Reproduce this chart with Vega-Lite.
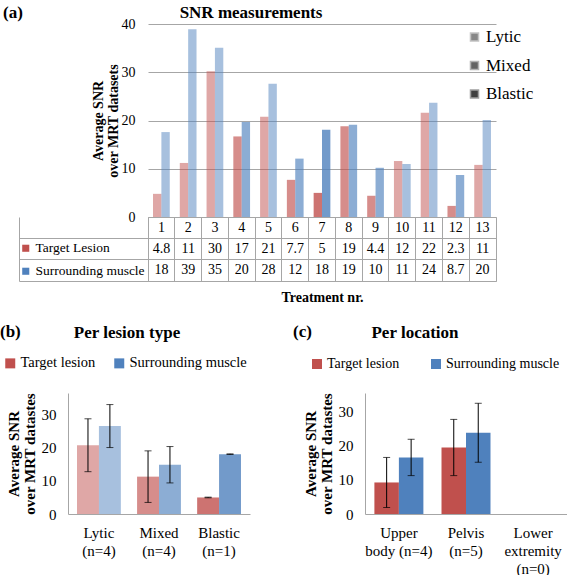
{
  "$schema": "https://vega.github.io/schema/vega-lite/v6.json",
  "padding": {"left": 0, "top": 4, "right": 0, "bottom": 0},
  "autosize": {"type": "pad"},
  "background": "white",
  "datasets": {
    "treat": [
      {"t": 1, "m": "Target Lesion", "v": 4.8, "type": "Lytic"},
      {"t": 1, "m": "Surrounding muscle", "v": 17.6, "type": "Lytic"},
      {"t": 2, "m": "Target Lesion", "v": 11.2, "type": "Lytic"},
      {"t": 2, "m": "Surrounding muscle", "v": 38.9, "type": "Lytic"},
      {"t": 3, "m": "Target Lesion", "v": 30.2, "type": "Lytic"},
      {"t": 3, "m": "Surrounding muscle", "v": 35.1, "type": "Lytic"},
      {"t": 4, "m": "Target Lesion", "v": 16.7, "type": "Mixed"},
      {"t": 4, "m": "Surrounding muscle", "v": 19.7, "type": "Mixed"},
      {"t": 5, "m": "Target Lesion", "v": 20.8, "type": "Lytic"},
      {"t": 5, "m": "Surrounding muscle", "v": 27.6, "type": "Lytic"},
      {"t": 6, "m": "Target Lesion", "v": 7.7, "type": "Mixed"},
      {"t": 6, "m": "Surrounding muscle", "v": 12.1, "type": "Mixed"},
      {"t": 7, "m": "Target Lesion", "v": 5.0, "type": "Blastic"},
      {"t": 7, "m": "Surrounding muscle", "v": 18.1, "type": "Blastic"},
      {"t": 8, "m": "Target Lesion", "v": 18.8, "type": "Mixed"},
      {"t": 8, "m": "Surrounding muscle", "v": 19.1, "type": "Mixed"},
      {"t": 9, "m": "Target Lesion", "v": 4.4, "type": "Mixed"},
      {"t": 9, "m": "Surrounding muscle", "v": 10.2, "type": "Mixed"},
      {"t": 10, "m": "Target Lesion", "v": 11.6, "type": "Lytic"},
      {"t": 10, "m": "Surrounding muscle", "v": 11.0, "type": "Lytic"},
      {"t": 11, "m": "Target Lesion", "v": 21.6, "type": "Lytic"},
      {"t": 11, "m": "Surrounding muscle", "v": 23.7, "type": "Lytic"},
      {"t": 12, "m": "Target Lesion", "v": 2.3, "type": "Mixed"},
      {"t": 12, "m": "Surrounding muscle", "v": 8.7, "type": "Mixed"},
      {"t": 13, "m": "Target Lesion", "v": 10.8, "type": "Lytic"},
      {"t": 13, "m": "Surrounding muscle", "v": 20.1, "type": "Lytic"}
    ],
    "lesion": [
      {"cat": "Lytic\n(n=4)", "m": "Target lesion", "mean": 20.8, "lo": 12.8, "hi": 28.8},
      {"cat": "Lytic\n(n=4)", "m": "Surrounding muscle", "mean": 26.6, "lo": 20.1, "hi": 33.1},
      {"cat": "Mixed\n(n=4)", "m": "Target lesion", "mean": 11.3, "lo": 3.5, "hi": 19.1},
      {"cat": "Mixed\n(n=4)", "m": "Surrounding muscle", "mean": 14.9, "lo": 9.4, "hi": 20.4},
      {"cat": "Blastic\n(n=1)", "m": "Target lesion", "mean": 5.0, "lo": 4.9, "hi": 5.1},
      {"cat": "Blastic\n(n=1)", "m": "Surrounding muscle", "mean": 18.1, "lo": 18.0, "hi": 18.2}
    ],
    "loc": [
      {"cat": "Upper\nbody (n=4)", "m": "Target lesion", "mean": 9.2, "lo": 1.9, "hi": 16.5},
      {"cat": "Upper\nbody (n=4)", "m": "Surrounding muscle", "mean": 16.5, "lo": 11.2, "hi": 21.8},
      {"cat": "Pelvis\n(n=5)", "m": "Target lesion", "mean": 19.4, "lo": 11.2, "hi": 27.6},
      {"cat": "Pelvis\n(n=5)", "m": "Surrounding muscle", "mean": 23.7, "lo": 15.1, "hi": 32.3}
    ]
  },
  "resolve": {"scale": {"color": "independent", "opacity": "independent", "xOffset": "independent"}, "legend": {"color": "independent", "opacity": "independent"}},
  "spacing": 17,
  "vconcat": [
    {
      "title": {"text": "(a)", "anchor": "start", "frame": "bounds", "fontSize": 17, "dx": -15, "dy": 18, "offset": 0},
      "spacing": 0,
      "bounds": "flush",
      "vconcat": [
        {
          "width": 348,
          "height": 193,
          "data": {"name": "treat"},
          "title": {"text": "SNR measurements", "fontSize": 17, "frame": "group", "anchor": "middle", "dx": -71, "dy": 5, "offset": 0},
          "mark": {"type": "bar"},
          "encoding": {
            "x": {"field": "t", "type": "ordinal", "scale": {"type": "band", "paddingInner": 0, "paddingOuter": 0}, "axis": null},
            "xOffset": {"field": "m", "type": "nominal", "sort": ["Target Lesion", "Surrounding muscle"], "scale": {"type": "band", "paddingInner": 0, "paddingOuter": 0.6}},
            "y": {"field": "v", "type": "quantitative", "scale": {"domain": [0, 40]},
              "axis": {"values": [0, 10, 20, 30, 40], "title": ["Average SNR", "over MRT datasets"], "grid": true, "domain": false, "labelPadding": 13, "titlePadding": 1, "titleLineHeight": 15}},
            "color": {"field": "m", "type": "nominal", "sort": ["Target Lesion", "Surrounding muscle"],
              "scale": {"domain": ["Target Lesion", "Surrounding muscle"], "range": ["#C0504D", "#4F81BD"]},
              "legend": {"orient": "none", "legendX": -129, "legendY": 217.5, "direction": "vertical", "title": null, "symbolType": "square", "symbolSize": 50, "labelFontSize": 13.5, "rowPadding": 8, "labelOffset": 3}},
            "opacity": {"field": "type", "type": "ordinal",
              "scale": {"domain": ["Lytic", "Mixed", "Blastic"], "range": [0.5, 0.8, 1]},
              "legend": {"orient": "none", "legendX": 318, "legendY": 4.5, "direction": "vertical", "title": null, "symbolType": "square", "symbolSize": 64, "symbolFillColor": "#111", "labelFontSize": 17, "rowPadding": 10.5, "labelOffset": 3}}
          }
        },
        {
          "width": 348,
          "height": 64,
          "data": {"name": "treat"},
          "view": {"stroke": "#a6a6a6"},
          "encoding": {
            "x": {"field": "t", "type": "ordinal", "scale": {"type": "band", "paddingInner": 0, "paddingOuter": 0},
              "axis": {"orient": "bottom", "labels": false, "domain": false, "grid": true, "bandPosition": 0, "title": "Treatment nr.", "titlePadding": 9}}
          },
          "layer": [
            {
              "transform": [{"filter": "datum.m == 'Target Lesion'"}],
              "mark": {"type": "text", "fontSize": 14, "color": "#000"},
              "encoding": {
                "y": {"datum": "hdr", "type": "nominal",
                  "scale": {"type": "band", "domain": ["hdr", "Target Lesion", "Surrounding muscle"], "paddingInner": 0, "paddingOuter": 0},
                  "axis": {"orient": "left", "labels": false, "title": null, "domain": true, "offset": 129, "ticks": true, "tickSize": -129, "tickColor": "#a6a6a6", "bandPosition": 1, "grid": true}},
                "text": {"field": "t", "type": "ordinal"}
              }
            },
            {
              "mark": {"type": "text", "fontSize": 14, "color": "#000"},
              "encoding": {
                "y": {"field": "m", "type": "nominal"},
                "text": {"field": "v", "type": "quantitative", "format": ".2~r"}
              }
            }
          ]
        }
      ]
    },
    {
      "spacing": -37,
      "resolve": {"scale": {"color": "independent", "opacity": "independent", "xOffset": "independent"}, "legend": {"color": "independent", "opacity": "independent"}},
      "hconcat": [
        {
          "title": {"text": "(b)", "anchor": "start", "frame": "bounds", "fontSize": 17, "dx": -3, "dy": 17, "offset": 0},
          "vconcat": [
            {
              "width": 102,
              "height": 121,
              "data": {"name": "lesion"},
              "title": {"text": "Per lesion type", "fontSize": 17, "frame": "group", "anchor": "middle", "dx": -72, "offset": 51},
              "encoding": {
                "x": {"field": "cat", "type": "nominal", "sort": ["Lytic\n(n=4)", "Mixed\n(n=4)", "Blastic\n(n=1)"],
                  "scale": {"type": "band", "range": [-80, 102], "paddingInner": 0.27, "paddingOuter": 0.15},
                  "axis": {"title": null, "labelAngle": 0, "labelExpr": "split(datum.label, '\\n')", "labelFontSize": 15, "labelPadding": 11, "labelLineHeight": 18, "domain": true}},
                "xOffset": {"field": "m", "type": "nominal", "sort": ["Target lesion", "Surrounding muscle"], "scale": {"type": "band", "paddingInner": 0, "paddingOuter": 0}},
                "y": {"field": "mean", "type": "quantitative", "scale": {"domain": [0, 36.6], "nice": false},
                  "axis": {"values": [0, 10, 20, 30], "title": ["Average SNR", "over MRT datastes"], "offset": 80, "domain": true, "grid": false, "labelFontSize": 15, "labelPadding": 12, "titleFontSize": 15, "titlePadding": 4, "titleLineHeight": 16}}
              },
              "layer": [
                {
                  "mark": {"type": "bar"},
                  "encoding": {
                    "color": {"field": "m", "type": "nominal", "sort": ["Target lesion", "Surrounding muscle"],
                      "scale": {"domain": ["Target lesion", "Surrounding muscle"], "range": ["#C0504D", "#4F81BD"]},
                      "legend": {"orient": "none", "legendX": -145, "legendY": -37, "direction": "horizontal", "title": null, "symbolType": "square", "symbolSize": 100, "labelFontSize": 14.5, "columnPadding": 16, "labelOffset": 3}},
                    "opacity": {"field": "cat", "type": "nominal",
                      "scale": {"domain": ["Lytic\n(n=4)", "Mixed\n(n=4)", "Blastic\n(n=1)"], "range": [0.5, 0.8, 1]}, "legend": null}
                  }
                },
                {
                  "mark": {"type": "rule", "color": "#000", "strokeWidth": 1},
                  "encoding": {"y": {"field": "lo", "type": "quantitative"}, "y2": {"field": "hi"}}
                },
                {
                  "mark": {"type": "tick", "color": "#000", "size": 7, "thickness": 1},
                  "encoding": {"y": {"field": "lo", "type": "quantitative"}}
                },
                {
                  "mark": {"type": "tick", "color": "#000", "size": 7, "thickness": 1},
                  "encoding": {"y": {"field": "hi", "type": "quantitative"}}
                }
              ]
            }
          ]
        },
        {
          "title": {"text": "(c)", "anchor": "start", "frame": "bounds", "fontSize": 17, "dx": -10, "dy": 17, "offset": 0},
          "vconcat": [
            {
              "width": 202,
              "height": 121,
              "data": {"name": "loc"},
              "title": {"text": "Per location", "fontSize": 17, "frame": "group", "anchor": "middle", "dx": -51, "offset": 51},
              "encoding": {
                "x": {"field": "cat", "type": "nominal",
                  "scale": {"type": "band", "domain": ["Upper\nbody (n=4)", "Pelvis\n(n=5)", "Lower\nextremity\n(n=0)"], "paddingInner": 0.27, "paddingOuter": 0.14},
                  "axis": {"title": null, "labelAngle": 0, "labelExpr": "split(datum.label, '\\n')", "labelFontSize": 15, "labelPadding": 11, "labelLineHeight": 18, "domain": true}},
                "xOffset": {"field": "m", "type": "nominal", "sort": ["Target lesion", "Surrounding muscle"], "scale": {"type": "band", "paddingInner": 0, "paddingOuter": 0}},
                "y": {"field": "mean", "type": "quantitative", "scale": {"domain": [0, 35.3], "nice": false},
                  "axis": {"values": [0, 10, 20, 30], "title": ["Average SNR", "over MRT datastes"], "domain": true, "grid": false, "labelFontSize": 15, "labelPadding": 12, "titleFontSize": 15, "titlePadding": 4, "titleLineHeight": 16}}
              },
              "layer": [
                {
                  "mark": {"type": "bar"},
                  "encoding": {
                    "color": {"field": "m", "type": "nominal", "sort": ["Target lesion", "Surrounding muscle"],
                      "scale": {"domain": ["Target lesion", "Surrounding muscle"], "range": ["#C0504D", "#4F81BD"]},
                      "legend": {"orient": "none", "legendX": -55, "legendY": -36, "direction": "horizontal", "title": null, "symbolType": "square", "symbolSize": 100, "labelFontSize": 14, "columnPadding": 29, "labelOffset": 3}}
                  }
                },
                {
                  "mark": {"type": "rule", "color": "#000", "strokeWidth": 1},
                  "encoding": {"y": {"field": "lo", "type": "quantitative"}, "y2": {"field": "hi"}}
                },
                {
                  "mark": {"type": "tick", "color": "#000", "size": 7, "thickness": 1},
                  "encoding": {"y": {"field": "lo", "type": "quantitative"}}
                },
                {
                  "mark": {"type": "tick", "color": "#000", "size": 7, "thickness": 1},
                  "encoding": {"y": {"field": "hi", "type": "quantitative"}}
                }
              ]
            }
          ]
        }
      ]
    }
  ],
  "config": {
    "font": "Liberation Serif, Times New Roman, serif",
    "view": {"stroke": null},
    "axis": {"labelFont": "Liberation Serif, Times New Roman, serif", "titleFont": "Liberation Serif, Times New Roman, serif", "labelColor": "#000", "titleColor": "#000", "labelFontSize": 14, "titleFontSize": 14, "titleFontWeight": "bold", "domainColor": "#a6a6a6", "ticks": false, "gridColor": "#a6a6a6"},
    "legend": {"labelFont": "Liberation Serif, Times New Roman, serif", "labelColor": "#000", "padding": 0},
    "text": {"font": "Liberation Serif, Times New Roman, serif"},
    "title": {"font": "Liberation Serif, Times New Roman, serif", "fontWeight": "bold", "color": "#000"}
  }
}
